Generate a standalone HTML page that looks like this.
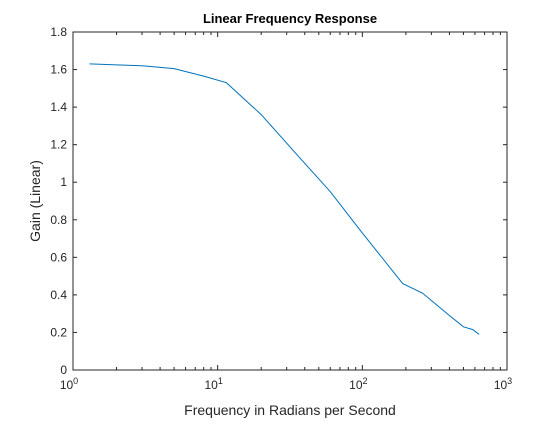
<!DOCTYPE html>
<html><head><meta charset="utf-8"><style>
body{margin:0;background:#fff;}
svg text{font-family:"Liberation Sans",sans-serif;fill:#262626;}
</style></head><body>
<svg id="chart" width="560" height="420" xmlns="http://www.w3.org/2000/svg">
<rect width="560" height="420" fill="#fff"/>
<g id="axes"></g>
<path id="line" fill="none" stroke="#0072bd" stroke-width="1"/>
<text x="290" y="23" text-anchor="middle" font-size="13" font-weight="bold" style="fill:#000">Linear Frequency Response</text>
<text x="290" y="415" text-anchor="middle" font-size="14">Frequency in Radians per Second</text>
<text transform="translate(40,201) rotate(-90)" text-anchor="middle" font-size="14">Gain (Linear)</text>
</svg>
<script>
const freqs=[1.3,2,3,5,8,11.5,20,35,60,100,190,260,400,500,580,640];
const gains=[1.63,1.625,1.62,1.605,1.565,1.53,1.36,1.15,0.95,0.73,0.46,0.41,0.29,0.23,0.215,0.19];
const yTicks=[0,0.2,0.4,0.6,0.8,1,1.2,1.4,1.6,1.8];
const yTickLabels=["0","0.2","0.4","0.6","0.8","1","1.2","1.4","1.6","1.8"];
const xDecades=[0,1,2,3];
const L=73,R=507,T=32,B=370;
const xs=v=>L+(Math.log10(v)-0)/3*(R-L);
const ys=v=>B-v/1.8*(B-T);
const NS="http://www.w3.org/2000/svg";
const g=document.getElementById('axes');
function mk(t,a){const e=document.createElementNS(NS,t);for(const k in a)e.setAttribute(k,a[k]);g.appendChild(e);return e;}
const box=mk('rect',{x:L,y:T,width:R-L,height:B-T,fill:'none',stroke:'#262626','stroke-width':1});


yTicks.forEach((v,i)=>{const y=ys(v);
mk('line',{x1:L,x2:L+4,y1:y,y2:y,stroke:'#262626'});
mk('line',{x1:R,x2:R-4,y1:y,y2:y,stroke:'#262626'});
const t=mk('text',{x:L-6,y:y+4,'text-anchor':'end','font-size':12});t.textContent=yTickLabels[i];

});
xDecades.forEach(d=>{const x=xs(Math.pow(10,d));
mk('line',{x1:x,x2:x,y1:B,y2:B-5,stroke:'#262626'});
mk('line',{x1:x,x2:x,y1:T,y2:T+5,stroke:'#262626'});
const t=mk('text',{x:x-4,y:389,'text-anchor':'middle','font-size':12});
t.innerHTML='10<tspan dy="-5" font-size="9">'+d+'</tspan>';


if(d<3)for(let m=2;m<10;m++){const xm=xs(m*Math.pow(10,d));
mk('line',{x1:xm,x2:xm,y1:B,y2:B-3,stroke:'#262626'});
mk('line',{x1:xm,x2:xm,y1:T,y2:T+3,stroke:'#262626'});}});
document.getElementById('line').setAttribute('d',freqs.map((f,i)=>(i?'L':'M')+xs(f).toFixed(1)+','+ys(gains[i]).toFixed(1)).join(''));
</script>
</body></html>
